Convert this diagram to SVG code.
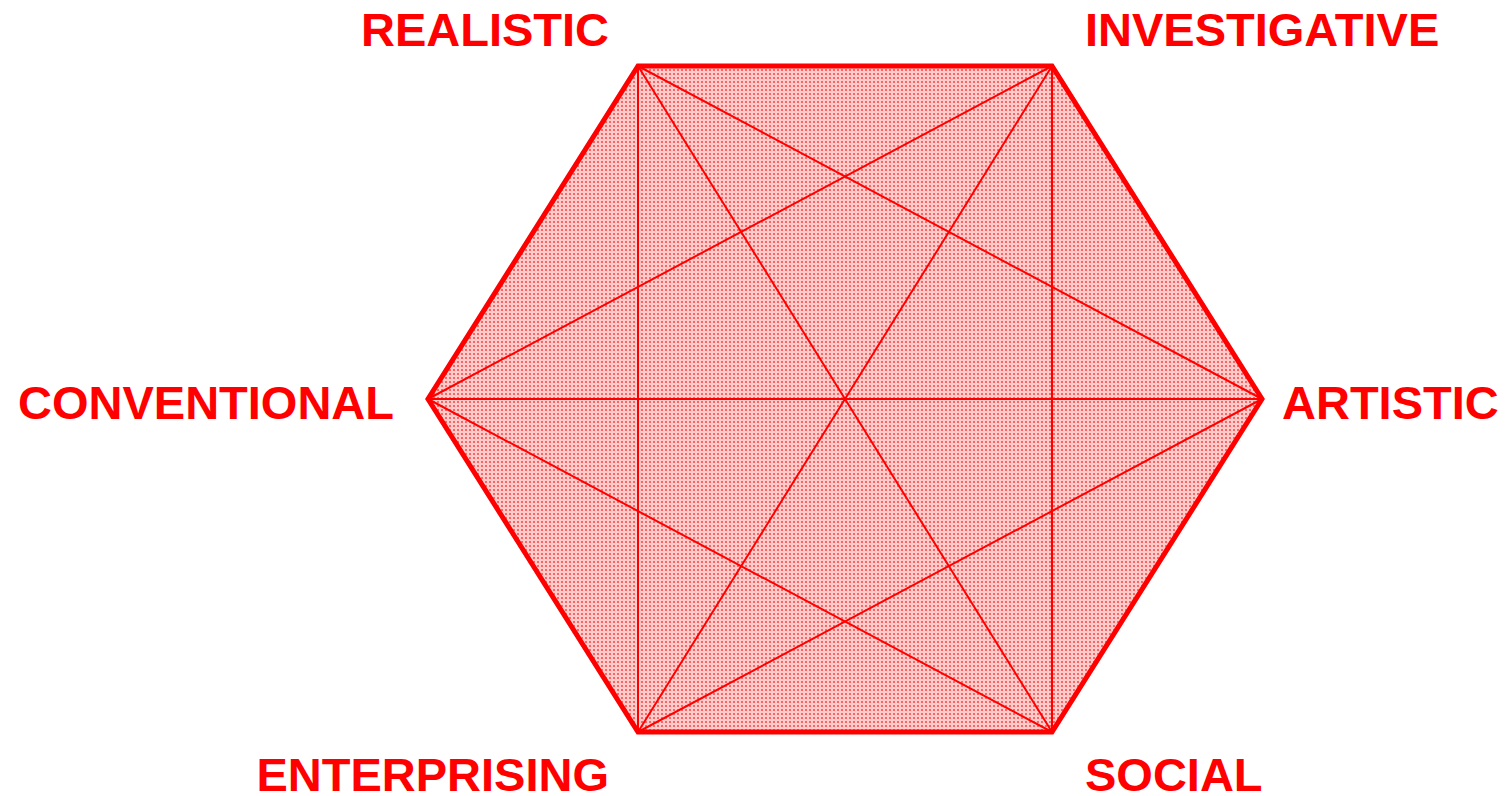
<svg xmlns="http://www.w3.org/2000/svg" width="1507" height="796" viewBox="0 0 1507 796">
<style>
.lbl{font-family:"Liberation Sans",Arial,sans-serif;font-weight:bold;font-size:47px;fill:#ff0000}
.diag{stroke:#ff0000;stroke-width:2;fill:none}
</style>
<defs>
<pattern id="dots" width="4" height="4" patternUnits="userSpaceOnUse">
<rect width="4" height="4" fill="#ffcccc"/>
<rect x="1" y="1" width="2" height="2" fill="#ff6262"/>
</pattern>
</defs>
<rect width="1507" height="796" fill="#ffffff"/>
<g id="hexagon">
<polygon points="638,66 1052,66 1262,399 1052,732 638,732 428,399" fill="url(#dots)" stroke="#ff0000" stroke-width="5" stroke-linejoin="miter"/>
</g>
<g id="connectors" class="diag">
<line x1="638" y1="66" x2="638" y2="732"/>
<line x1="638" y1="66" x2="1262" y2="399"/>
<line x1="638" y1="66" x2="1052" y2="732"/>
<line x1="1052" y1="66" x2="1052" y2="732"/>
<line x1="1052" y1="66" x2="428" y2="399"/>
<line x1="1052" y1="66" x2="638" y2="732"/>
<line x1="428" y1="399" x2="1262" y2="399"/>
<line x1="428" y1="399" x2="1052" y2="732"/>
<line x1="1262" y1="399" x2="638" y2="732"/>
</g>
<g id="realistic"><text class="lbl" x="609" y="46" text-anchor="end">REALISTIC</text></g>
<g id="investigative"><text class="lbl" x="1085" y="46">INVESTIGATIVE</text></g>
<g id="conventional"><text class="lbl" x="394" y="419" text-anchor="end">CONVENTIONAL</text></g>
<g id="artistic"><text class="lbl" x="1282" y="419">ARTISTIC</text></g>
<g id="enterprising"><text class="lbl" x="609" y="791" text-anchor="end">ENTERPRISING</text></g>
<g id="social"><text class="lbl" x="1085" y="791">SOCIAL</text></g>
</svg>
